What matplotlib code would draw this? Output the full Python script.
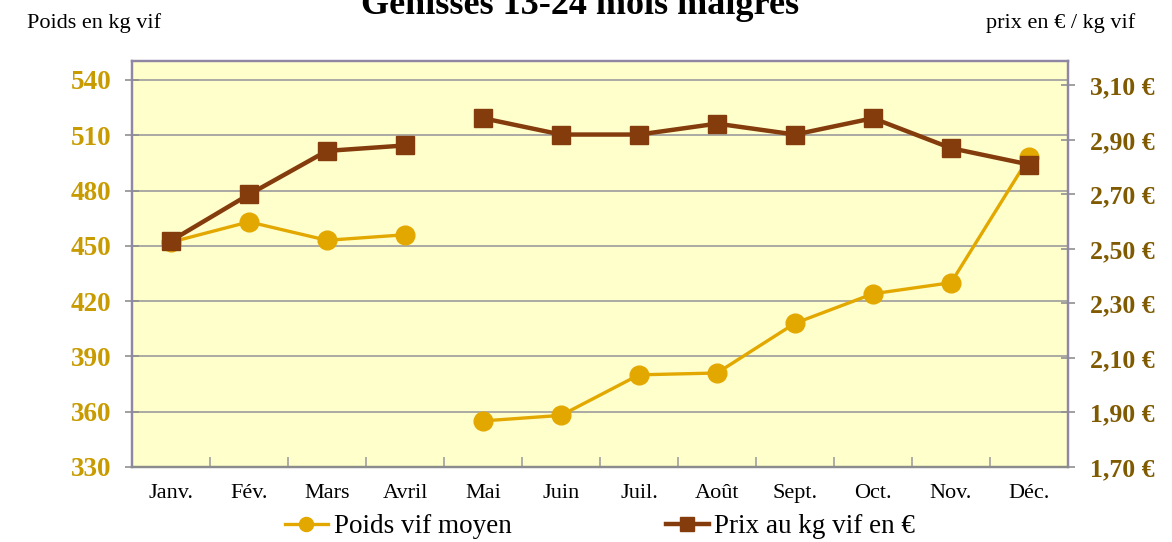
import numpy as np
import matplotlib
matplotlib.use("Agg")
import matplotlib.pyplot as plt
from matplotlib.ticker import FuncFormatter, FixedLocator

plt.rcParams['font.family'] = ['Liberation Serif', 'DejaVu Serif']

# data
months = ['Janv.', 'Fév.', 'Mars', 'Avril', 'Mai', 'Juin', 'Juil.', 'Août',
          'Sept.', 'Oct.', 'Nov.', 'Déc.']
poids = [452, 463, 453, 456, 355, 358, 380, 381, 408, 424, 430, 498]
prix = [2.53, 2.70, 2.86, 2.88, 2.98, 2.92, 2.92, 2.96, 2.92, 2.98, 2.87, 2.81]
# no line between Avril and Mai
gap_after = 3

gold = '#E3A800'
brown = '#843C0C'
spine_col = '#8F87A3'

fig = plt.figure(figsize=(11.72, 5.42), dpi=100)
ax = fig.add_axes([0.1126, 0.1384, 0.7987, 0.7491])
ax.set_facecolor('#FFFFCC')
ax2 = ax.twinx()

x = np.arange(len(months))

def split(vals):
    v = np.array(vals, dtype=float)
    xs = np.concatenate([x[:gap_after + 1], [np.nan], x[gap_after + 1:]])
    ys = np.concatenate([v[:gap_after + 1], [np.nan], v[gap_after + 1:]])
    return xs, ys

px, py = split(poids)
l1, = ax.plot(px, py, color=gold, lw=2.4, marker='o', ms=13.5,
              mec=gold, mfc=gold, label='Poids vif moyen', zorder=3)
qx, qy = split(prix)
l2, = ax2.plot(qx, qy, color=brown, lw=3.2, marker='s', ms=13.5,
               mec=brown, mfc=brown, label='Prix au kg vif en €', zorder=3)

ax.set_xlim(-0.5, 11.5)
ax.set_ylim(330, 550.3)
ax.set_yticks(np.arange(330, 541, 30))
ax2.set_ylim(1.70, 3.19)
ax2.yaxis.set_major_locator(FixedLocator(np.arange(1.70, 3.11, 0.20)))
ax2.yaxis.set_major_formatter(FuncFormatter(lambda v, p: f'{v:.2f} €'.replace('.', ',')))

ax.grid(axis='y', color='#9C9C9C', lw=1.2)
ax.set_axisbelow(True)

ax.set_xticks(x)
ax.set_xticklabels(months, fontsize=16)
ax.set_xticks(np.arange(-0.5, 12, 1), minor=True)
ax.tick_params(axis='x', which='major', length=0, pad=12)
ax.tick_params(axis='x', which='minor', direction='in', length=7, color='#A0A0A0', width=1.2)

ax.tick_params(axis='y', direction='inout', length=10, color='#909090', width=1.2, pad=10)
for t in ax.get_yticklabels():
    t.set_fontsize(19.5)
    t.set_fontweight('bold')
    t.set_color('#C89B00')
ax2.tick_params(axis='y', direction='inout', length=10, color='#909090', width=1.2, pad=11)
for t in ax2.get_yticklabels():
    t.set_fontsize(18.5)
    t.set_fontweight('bold')
    t.set_color('#7F5A00')

for a in (ax, ax2):
    for s in a.spines.values():
        s.set_color(spine_col)
        s.set_linewidth(1.6)
ax.spines['bottom'].set_color('#8C8C8C')
ax2.spines['bottom'].set_color('#8C8C8C')

fig.text(0.495, 0.99, 'Génisses 13-24 mois maigres', ha='center', va='center',
         fontsize=26, fontweight='bold')
fig.text(0.023, 0.958, 'Poids en kg vif', ha='left', va='center', fontsize=16)
fig.text(0.969, 0.958, 'prix en € / kg vif', ha='right', va='center', fontsize=16)

fig.legend([l1, l2], ['Poids vif moyen', 'Prix au kg vif en €'], loc='center',
           bbox_to_anchor=(0.512, 0.028), ncol=2, frameon=False, fontsize=19.5,
           handlelength=1.6, handletextpad=0.2, columnspacing=5.7, markerscale=0.75)

fig.savefig('out.png', dpi=100)
